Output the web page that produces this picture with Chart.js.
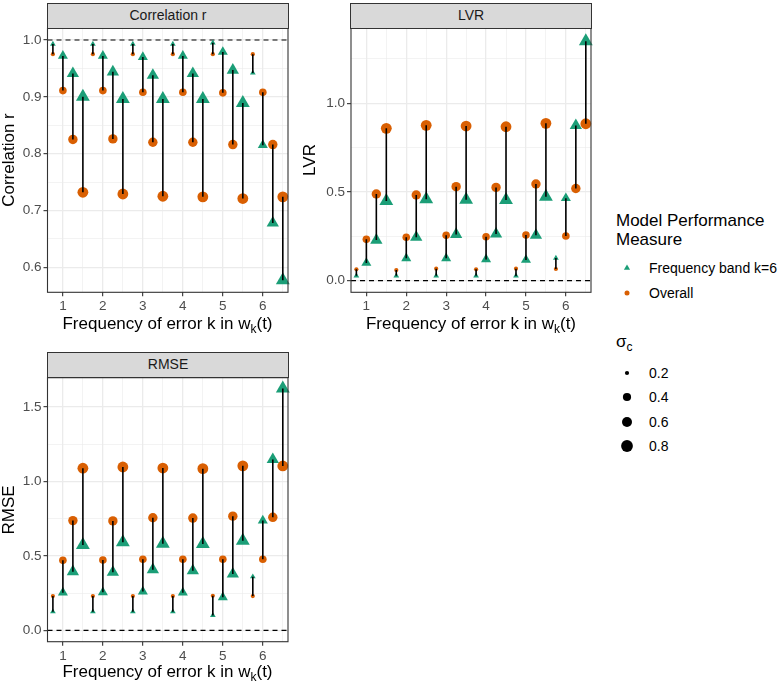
<!DOCTYPE html>
<html><head><meta charset="utf-8">
<script src="https://cdn.jsdelivr.net/npm/chart.js@4"></script>
<style>
body{margin:0;background:#fff;width:780px;height:683px;position:relative;overflow:hidden;font-family:"Liberation Sans",Arial,sans-serif;}
canvas{position:absolute;}
.strip{position:absolute;background:#D9D9D9;border:1px solid #333;box-sizing:border-box;color:#1A1A1A;font-size:14px;text-align:center;line-height:23px;}
.xt{position:absolute;font-size:17px;line-height:20px;text-align:center;color:#000;white-space:nowrap;}
.yt{position:absolute;font-size:17px;line-height:20px;width:200px;text-align:center;transform:rotate(-90deg);white-space:nowrap;color:#000;}
.sub{font-size:12px;position:relative;top:4px;}
.lt{position:absolute;font-size:17px;line-height:18.5px;color:#000;}
.ll{position:absolute;font-size:14px;line-height:18px;color:#000;white-space:nowrap;}
svg{position:absolute;overflow:visible;}
</style>
</head>
<body>
<canvas id="cA" width="300" height="320" style="left:0;top:0"></canvas>
<canvas id="cB" width="300" height="320" style="left:300px;top:0"></canvas>
<canvas id="cC" width="300" height="343" style="left:0;top:340px"></canvas>

<div class="strip" style="left:47px;top:3px;width:242px;height:26px">Correlation r</div>
<div class="strip" style="left:350px;top:3px;width:242px;height:26px">LVR</div>
<div class="strip" style="left:47px;top:352px;width:242px;height:26px">RMSE</div>

<div class="xt" style="left:47px;width:241px;top:314px">Frequency of error k in w<span class="sub">k</span>(t)</div>
<div class="xt" style="left:351px;width:240px;top:314px">Frequency of error k in w<span class="sub">k</span>(t)</div>
<div class="xt" style="left:47px;width:241px;top:662px">Frequency of error k in w<span class="sub">k</span>(t)</div>

<div class="yt" style="left:-91px;top:150px">Correlation r</div>
<div class="yt" style="left:210px;top:150px">LVR</div>
<div class="yt" style="left:-91px;top:500px">RMSE</div>

<div class="lt" style="left:616px;top:212px">Model Performance<br>Measure</div>
<svg style="left:627px;top:268px" width="1" height="1"><polygon points="0,-3.6 3.1,1.8 -3.1,1.8" fill="#1B9E77"/></svg>
<div class="ll" style="left:649px;top:259px">Frequency band k=6</div>
<svg style="left:627px;top:292.7px" width="1" height="1"><circle cx="0" cy="0" r="2.5" fill="#D95F02"/></svg>
<div class="ll" style="left:649px;top:283.7px">Overall</div>

<div class="lt" style="left:616px;top:333px">σ<span class="sub" style="font-size:12px">c</span></div>
<svg style="left:627px;top:372.7px" width="1" height="1"><circle r="2.1" fill="#000"/></svg>
<div class="ll" style="left:649px;top:363.7px">0.2</div>
<svg style="left:627px;top:397px" width="1" height="1"><circle r="4.1" fill="#000"/></svg>
<div class="ll" style="left:649px;top:388px">0.4</div>
<svg style="left:627px;top:421.7px" width="1" height="1"><circle r="5" fill="#000"/></svg>
<div class="ll" style="left:649px;top:412.7px">0.6</div>
<svg style="left:627px;top:446px" width="1" height="1"><circle r="5.9" fill="#000"/></svg>
<div class="ll" style="left:649px;top:437px">0.8</div>

<script>
// ---------- data ----------
const K_VALUES = [1, 2, 3, 4, 5, 6];
const SIGMA_LEVELS = [0.2, 0.4, 0.6, 0.8];
const X_TICKS = [1, 2, 3, 4, 5, 6];
const CORR_TICKS = [0.6, 0.7, 0.8, 0.9, 1.0];
const LVR_TICKS = [0.0, 0.5, 1.0];
const RMSE_TICKS = [0.0, 0.5, 1.0, 1.5];

// rows: k = 1..6 ; columns: sigma_c = 0.2, 0.4, 0.6, 0.8
const corrOverall = [
  [0.975, 0.911, 0.825, 0.732],
  [0.975, 0.911, 0.826, 0.729],
  [0.975, 0.908, 0.820, 0.725],
  [0.975, 0.908, 0.820, 0.724],
  [0.975, 0.907, 0.816, 0.721],
  [0.975, 0.908, 0.816, 0.724]
];
const corrBand = [
  [0.993, 0.972, 0.941, 0.900],
  [0.993, 0.972, 0.944, 0.896],
  [0.993, 0.970, 0.938, 0.896],
  [0.993, 0.972, 0.941, 0.896],
  [0.995, 0.979, 0.947, 0.889],
  [0.942, 0.815, 0.678, 0.577]
];
const lvrOverall = [
  [0.064, 0.233, 0.489, 0.859],
  [0.060, 0.245, 0.483, 0.876],
  [0.068, 0.256, 0.530, 0.872],
  [0.064, 0.248, 0.526, 0.868],
  [0.068, 0.258, 0.545, 0.887],
  [0.066, 0.252, 0.520, 0.885]
];
const lvrBand = [
  [0.028, 0.100, 0.229, 0.449],
  [0.028, 0.126, 0.245, 0.459],
  [0.028, 0.126, 0.261, 0.457],
  [0.028, 0.120, 0.263, 0.455],
  [0.027, 0.117, 0.256, 0.474],
  [0.128, 0.465, 0.875, 1.350]
];
const rmseOverall = [
  [0.230, 0.470, 0.737, 1.089],
  [0.230, 0.472, 0.735, 1.097],
  [0.230, 0.477, 0.756, 1.090],
  [0.230, 0.477, 0.754, 1.086],
  [0.232, 0.477, 0.767, 1.105],
  [0.230, 0.477, 0.759, 1.104]
];
const rmseBand = [
  [0.125, 0.253, 0.394, 0.573],
  [0.125, 0.255, 0.390, 0.591],
  [0.125, 0.260, 0.407, 0.582],
  [0.125, 0.253, 0.400, 0.580],
  [0.100, 0.222, 0.378, 0.602],
  [0.360, 0.737, 1.147, 1.625]
];

// ---------- styling / layout ----------
const DODGE = [-0.25, 0, 0.25, 0.5];
const CIRC_R = [2.1, 3.8, 4.7, 5.4];
const TRI_R = [3.3, 5.8, 7.1, 8.0];
const GREEN = '#1B9E77', ORANGE = '#D95F02';
const X_MIN = 0.615, X_MAX = 6.63;

Chart.defaults.font.family = "'Liberation Sans', Arial, sans-serif";

function withMinor(major, lo, hi) {
  const d = major[1] - major[0];
  const ext = [major[0] - d, ...major, major[major.length - 1] + d];
  const out = [...major];
  for (let i = 0; i < ext.length - 1; i++) {
    const m = +((ext[i] + ext[i + 1]) / 2).toFixed(4);
    if (m > lo && m < hi) out.push(m);
  }
  return out.sort((a, b) => a - b);
}
function isMajor(v, major) { return major.some(m => Math.abs(m - v) < 1e-6); }

function axisCfg(major, lo, hi, fmt, fitFn) {
  const all = withMinor(major, lo, hi);
  return {
    type: 'linear', min: lo, max: hi,
    afterBuildTicks: s => { s.ticks = all.map(v => ({ value: v })); },
    afterFit: fitFn,
    border: { display: false },
    grid: {
      color: '#EBEBEB',
      lineWidth: c => (c.tick && isMajor(c.tick.value, major)) ? 1.3 : 0.6,
      drawTicks: true, tickLength: 4,
      tickColor: c => (c.tick && isMajor(c.tick.value, major)) ? '#333333' : 'rgba(0,0,0,0)',
      tickWidth: 1.1
    },
    ticks: {
      autoSkip: false, maxRotation: 0, padding: 2,
      color: '#4D4D4D', font: { size: 13.5 },
      callback: v => isMajor(v, major) ? fmt(v) : ''
    }
  };
}

const framePlugin = {
  id: 'panelFrame',
  afterDraw(chart) {
    const { ctx, chartArea: ca } = chart;
    ctx.save();
    ctx.strokeStyle = '#333333'; ctx.lineWidth = 1.1;
    ctx.strokeRect(ca.left, ca.top, ca.right - ca.left, ca.bottom - ca.top);
    ctx.restore();
  }
};

function makePanel(id, overall, band, yTicks, yMin, yMax, refY, yW, xH, pad) {
  const tri = [], circ = [], seg = [], triR = [], circR = [];
  K_VALUES.forEach((k, i) => SIGMA_LEVELS.forEach((s, j) => {
    const x = k + DODGE[j];
    tri.push({ x, y: band[i][j] }); triR.push(TRI_R[j]);
    circ.push({ x, y: overall[i][j] }); circR.push(CIRC_R[j]);
    seg.push({ x, y: overall[i][j] }, { x, y: band[i][j] }, { x, y: null });
  }));

  return new Chart(document.getElementById(id), {
    type: 'scatter',
    data: {
      datasets: [
        { type: 'line', data: seg, showLine: true, spanGaps: false, borderColor: '#000', borderWidth: 1.6,
          pointRadius: 0, order: 0, clip: false },
        { data: tri, pointStyle: 'triangle', pointRadius: triR, backgroundColor: GREEN, borderWidth: 0,
          pointBorderWidth: 0, order: 1, clip: false },
        { data: circ, pointStyle: 'circle', pointRadius: circR, backgroundColor: ORANGE, borderWidth: 0,
          pointBorderWidth: 0, order: 2, clip: false },
        { type: 'line', data: [{ x: X_MIN, y: refY }, { x: X_MAX, y: refY }], showLine: true,
          borderColor: '#000', borderWidth: 1.2, borderDash: [5, 4], pointRadius: 0, order: 3 }
      ]
    },
    options: {
      responsive: false, animation: false, devicePixelRatio: 1,
      layout: { padding: pad },
      plugins: { legend: { display: false }, tooltip: { enabled: false } },
      events: [],
      scales: {
        x: axisCfg(X_TICKS, X_MIN, X_MAX, v => String(v), s => { s.height = xH; }),
        y: axisCfg(yTicks, yMin, yMax, v => v.toFixed(1), s => { s.width = yW; })
      }
    },
    plugins: [framePlugin]
  });
}

makePanel('cA', corrOverall, corrBand, CORR_TICKS, 0.556, 1.0206, 1.0, 47.5, 27.7,
  { top: 28.3, right: 12, bottom: 0, left: 0 });
makePanel('cB', lvrOverall, lvrBand, LVR_TICKS, -0.0654, 1.423, 0.0, 51, 27.7,
  { top: 28.3, right: 9, bottom: 0, left: 0 });
makePanel('cC', rmseOverall, rmseBand, RMSE_TICKS, -0.0766, 1.697, 0.0, 47.5, 41.3,
  { top: 37.7, right: 12, bottom: 0, left: 0 });
</script>
</body></html>
